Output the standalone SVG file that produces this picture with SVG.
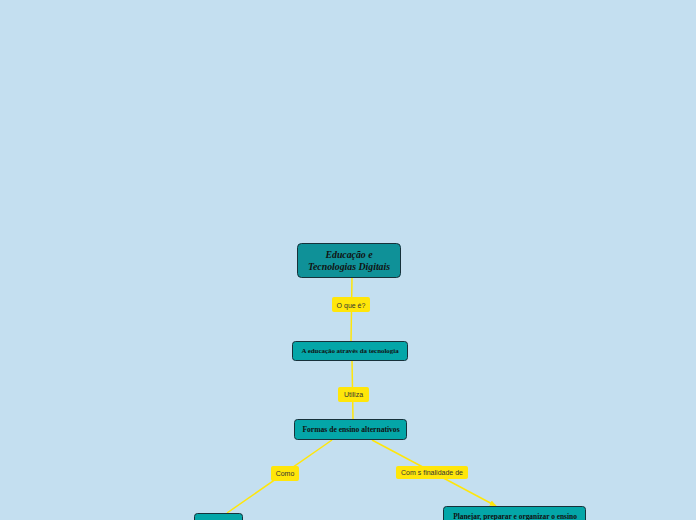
<svg xmlns="http://www.w3.org/2000/svg" width="696" height="520" viewBox="0 0 696 520">
<style>
.node rect{stroke:#17313a;stroke-width:1}
.main{fill:#0f9198}
.sub{fill:#04a6a8}
.nt{font-family:"Liberation Serif","Times New Roman",serif;font-weight:bold;fill:#111;text-anchor:middle}
.lab rect{fill:#ffe60a}
.lt{font-family:"Liberation Sans",Arial,sans-serif;font-size:7px;fill:#333;text-anchor:middle}
.edge{stroke:#ffe60a;stroke-width:1.5;fill:none}
</style>
<defs>
<marker id="arr" viewBox="0 0 10 10" refX="9" refY="5" markerWidth="7" markerHeight="7" orient="auto" markerUnits="userSpaceOnUse">
<path d="M0,1 L10,5 L0,9 z" fill="#ffe60a"/>
</marker>
</defs>
<rect width="696" height="520" fill="#c4dff0"/>
<g id="connectors">
<line class="edge" x1="352" y1="278" x2="351" y2="341"/>
<line class="edge" x1="352" y1="360" x2="353" y2="419"/>
<line class="edge" x1="332" y1="440" x2="227" y2="513"/>
<line class="edge" x1="372" y1="440" x2="496" y2="506" marker-end="url(#arr)"/>
</g>
<g id="label-oque" class="lab"><rect x="332" y="297" width="38" height="15" rx="2"/><text class="lt" x="351" y="307.5">O que é?</text></g>
<g id="label-utiliza" class="lab"><rect x="338" y="387" width="31" height="15" rx="2"/><text class="lt" x="353.5" y="397">Utiliza</text></g>
<g id="label-como" class="lab"><rect x="271" y="466" width="28" height="15" rx="2"/><text class="lt" x="285" y="476">Como</text></g>
<g id="label-finalidade" class="lab"><rect x="396" y="466" width="72" height="13" rx="2"/><text class="lt" x="432" y="475">Com s finalidade de</text></g>
<g id="root" class="node"><rect class="main" x="297.5" y="243.5" width="103" height="34" rx="4"/>
<text class="nt" x="349" y="258" font-size="9.8" font-style="italic">Educação e</text>
<text class="nt" x="349" y="270" font-size="9.8" font-style="italic">Tecnologias Digitais</text></g>
<g id="n-educacao" class="node"><rect class="sub" x="292.5" y="341.5" width="115" height="19" rx="3"/>
<text class="nt" x="350" y="353" font-size="6.9">A educação através da tecnologia</text></g>
<g id="n-formas" class="node"><rect class="sub" x="294.5" y="419.5" width="112" height="20" rx="3"/>
<text class="nt" x="351" y="432" font-size="7.6">Formas de ensino alternativos</text></g>
<g id="n-como" class="node"><rect class="sub" x="194.5" y="513.5" width="48" height="20" rx="3"/></g>
<g id="n-planejar" class="node"><rect class="sub" x="443.5" y="506.5" width="142" height="20" rx="3"/>
<text class="nt" x="515" y="519" font-size="7.4">Planejar, preparar e organizar o ensino</text></g>
</svg>
